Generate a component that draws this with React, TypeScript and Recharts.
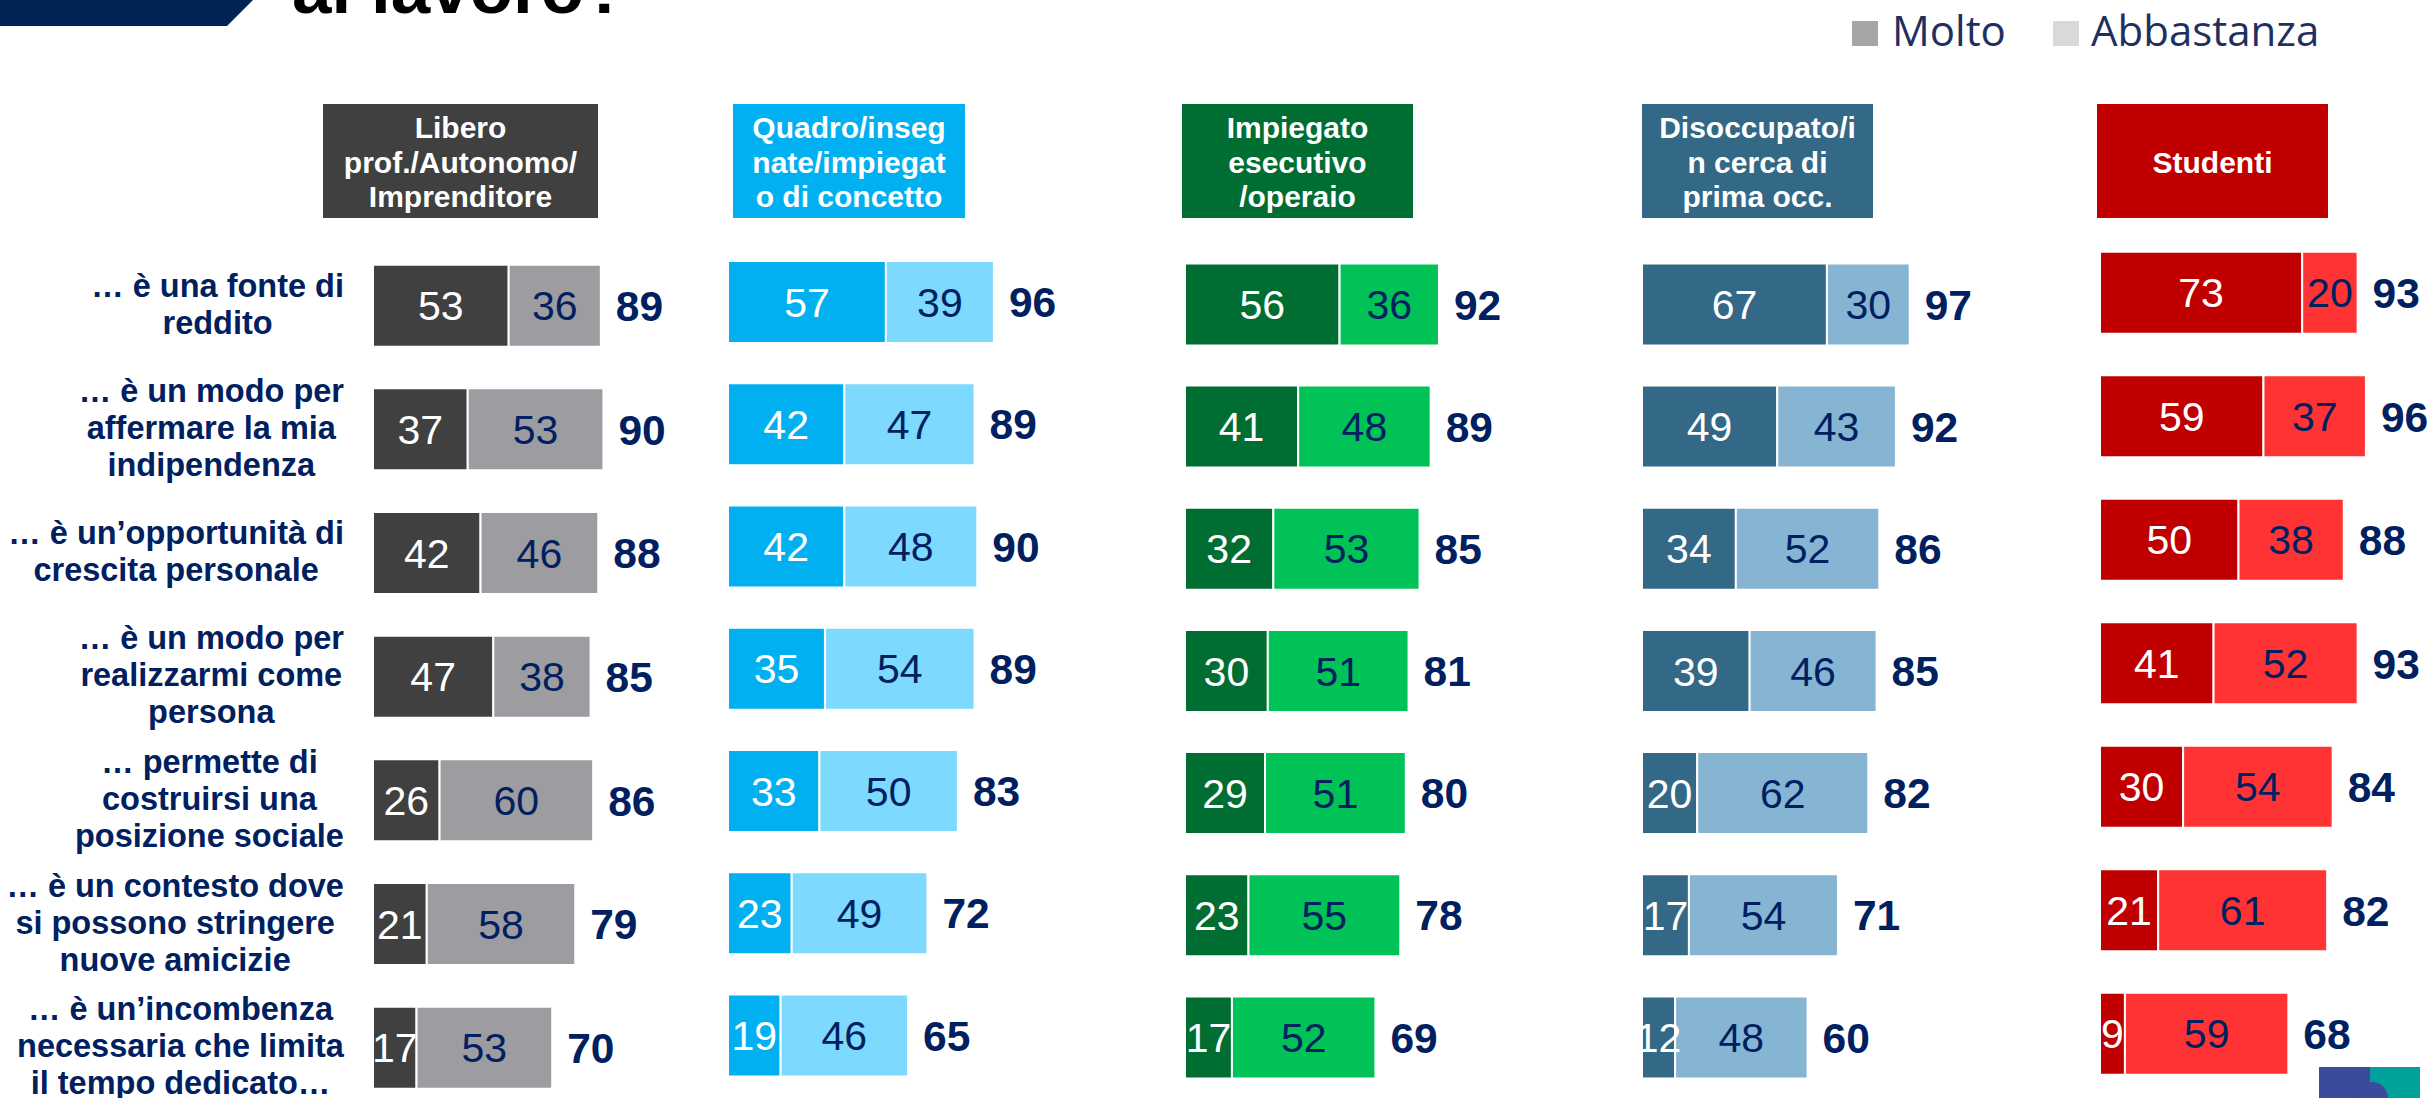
import React from 'react';
import { BarChart, Bar, XAxis, YAxis, LabelList } from 'recharts';

// ---------- DATA ----------
const categories = [
  '… è una fonte di\nreddito',
  '… è un modo per\naffermare la mia\nindipendenza',
  '… è un’opportunità di\ncrescita personale',
  '… è un modo per\nrealizzarmi come\npersona',
  '… permette di\ncostruirsi una\nposizione sociale',
  '… è un contesto dove\nsi possono stringere\nnuove amicizie',
  '… è un’incombenza\nnecessaria che limita\nil tempo dedicato…',
];

const seriesNames = ['Molto', 'Abbastanza'];

const groupTitles = [
  'Libero\nprof./Autonomo/\nImprenditore',
  'Quadro/inseg\nnate/impiegat\no di concetto',
  'Impiegato\nesecutivo\n/operaio',
  'Disoccupato/i\nn cerca di\nprima occ.',
  'Studenti',
];

const liberoMolto = [53, 37, 42, 47, 26, 21, 17];
const liberoAbbastanza = [36, 53, 46, 38, 60, 58, 53];
const liberoTotale = [89, 90, 88, 85, 86, 79, 70];

const quadroMolto = [57, 42, 42, 35, 33, 23, 19];
const quadroAbbastanza = [39, 47, 48, 54, 50, 49, 46];
const quadroTotale = [96, 89, 90, 89, 83, 72, 65];

const impiegatoMolto = [56, 41, 32, 30, 29, 23, 17];
const impiegatoAbbastanza = [36, 48, 53, 51, 51, 55, 52];
const impiegatoTotale = [92, 89, 85, 81, 80, 78, 69];

const disoccupatoMolto = [67, 49, 34, 39, 20, 17, 12];
const disoccupatoAbbastanza = [30, 43, 52, 46, 62, 54, 48];
const disoccupatoTotale = [97, 92, 86, 85, 82, 71, 60];

const studentiMolto = [73, 59, 50, 41, 30, 21, 9];
const studentiAbbastanza = [20, 37, 38, 52, 54, 61, 59];
const studentiTotale = [93, 96, 88, 93, 84, 82, 68];

// ---------- STYLE ----------
const FONT = '"Liberation Sans", Arial, Helvetica, sans-serif';
const NAVY = '#002060';

type Panel = {
  title: string;
  molto: number[];
  abb: number[];
  tot: number[];
  dark: string;
  light: string;
  header: string;
  x0: number;
  ppu: number;
  top: number;
  band: number;
  hx: number;
  hw: number;
};

const panels: Panel[] = [
  { title: groupTitles[0], molto: liberoMolto, abb: liberoAbbastanza, tot: liberoTotale, dark: '#404040', light: '#9d9ca1', header: '#404040', x0: 373, ppu: 2.56, top: 243.7, band: 123.67, hx: 323, hw: 275 },
  { title: groupTitles[1], molto: quadroMolto, abb: quadroAbbastanza, tot: quadroTotale, dark: '#00b0f0', light: '#7dd9fd', header: '#00b0f0', x0: 727.5, ppu: 2.77, top: 240.9, band: 122.25, hx: 733, hw: 232 },
  { title: groupTitles[2], molto: impiegatoMolto, abb: impiegatoAbbastanza, tot: impiegatoTotale, dark: '#006e33', light: '#00c257', header: '#006e33', x0: 1185, ppu: 2.76, top: 243.4, band: 122.17, hx: 1182, hw: 231 },
  { title: groupTitles[3], molto: disoccupatoMolto, abb: disoccupatoAbbastanza, tot: disoccupatoTotale, dark: '#336886', light: '#86b5d3', header: '#336886', x0: 1642, ppu: 2.76, top: 243.4, band: 122.17, hx: 1642, hw: 231 },
  { title: groupTitles[4], molto: studentiMolto, abb: studentiAbbastanza, tot: studentiTotale, dark: '#c00000', light: '#ff3333', header: '#c00000', x0: 2099.5, ppu: 2.77, top: 230.8, band: 123.5, hx: 2097, hw: 231 },
];

let ctx: CanvasRenderingContext2D | null = null;
function measure(t: string, font: string): number {
  if (!ctx) ctx = document.createElement('canvas').getContext('2d');
  if (!ctx) return t.length * 16;
  ctx.font = font;
  return ctx.measureText(t).width;
}

const LABEL_FS = 32.5;
const LABEL_LH = 37;
const LABEL_RIGHT = 344;

const RowLabel = (props: any) => {
  const { y, payload } = props;
  const lines = String(payload.value).split('\n');
  const maxW = Math.max(...lines.map((l) => measure(l, `bold ${LABEL_FS}px ${FONT}`)));
  const cx = LABEL_RIGHT - maxW / 2;
  const y0 = Number(y) - ((lines.length - 1) * LABEL_LH) / 2 + 0.3 * LABEL_FS;
  return (
    <text textAnchor="middle" fill={NAVY} fontWeight="bold" fontSize={LABEL_FS} fontFamily={FONT}>
      {lines.map((l, i) => (
        <tspan key={i} x={cx} y={y0 + i * LABEL_LH}>
          {l}
        </tspan>
      ))}
    </text>
  );
};

function box(p: any) {
  const vb = p.viewBox && typeof p.viewBox.width === 'number' ? p.viewBox : p;
  return { x: Number(vb.x), y: Number(vb.y), w: Number(vb.width), h: Number(vb.height) };
}

const VAL_FS = 41;
const TOT_FS = 42.5;
const inside = (color: string) => (p: any) => {
  const b = box(p);
  return (
    <text x={b.x + b.w / 2} y={b.y + b.h / 2 + 0.358 * VAL_FS} textAnchor="middle" fill={color} fontSize={VAL_FS} fontFamily={FONT}>
      {p.value}
    </text>
  );
};

const totalLabel = (p: any) => {
  const b = box(p);
  return (
    <text x={b.x + b.w + 15} y={b.y + b.h / 2 + 0.358 * TOT_FS} textAnchor="start" fill={NAVY} fontSize={TOT_FS} fontWeight="bold" fontFamily={FONT}>
      {p.value}
    </text>
  );
};

function PanelChart({ cfg, withLabels }: { cfg: Panel; withLabels: boolean }) {
  const data = categories.map((c, i) => ({ cat: c, molto: cfg.molto[i], abb: cfg.abb[i], tot: cfg.tot[i] }));
  const yW = withLabels ? cfg.x0 : 0;
  const left = withLabels ? 0 : cfg.x0;
  const plotW = 100 * cfg.ppu;
  const rightM = 100;
  const width = yW + plotW + rightM;
  const height = cfg.top + 7 * cfg.band;
  return (
    <div style={{ position: 'absolute', left, top: 0 }}>
      <BarChart
        layout="vertical"
        width={width}
        height={height}
        data={data}
        margin={{ top: cfg.top, right: rightM, bottom: 0, left: 0 }}
        barSize={82}
      >
        <XAxis type="number" domain={[0, 100]} hide />
        <YAxis
          type="category"
          dataKey="cat"
          hide={!withLabels}
          width={yW}
          axisLine={false}
          tickLine={false}
          interval={0}
          tick={RowLabel}
        />
        <Bar dataKey="molto" name={seriesNames[0]} stackId="s" fill={cfg.dark} stroke="#ffffff" strokeWidth={2} isAnimationActive={false}>
          <LabelList dataKey="molto" content={inside('#ffffff')} />
        </Bar>
        <Bar dataKey="abb" name={seriesNames[1]} stackId="s" fill={cfg.light} stroke="#ffffff" strokeWidth={2} isAnimationActive={false}>
          <LabelList dataKey="abb" content={inside(NAVY)} />
          <LabelList dataKey="tot" content={totalLabel} />
        </Bar>
      </BarChart>
    </div>
  );
}

function Decorations() {
  return (
    <svg width={2435} height={1098} style={{ position: 'absolute', left: 0, top: 0, pointerEvents: 'none' }}>
      <polygon points="0,0 253,0 227,26 0,26" fill="#002454" />
      <text x={292} y={13} fontSize={71} fontWeight="bold" fontFamily={FONT} fill="#000">
        al lavoro?
      </text>
      <rect x={1852} y={21} width={26} height={25} fill="#a6a6a6" />
      <text x={1892} y={46} fontSize={42} fontFamily={'"Open Sans", "Liberation Sans", sans-serif'} fill="#1f2f60">
        {seriesNames[0]}
      </text>
      <rect x={2053} y={21} width={26} height={25} fill="#d9d9d9" />
      <text x={2091} y={46} fontSize={42} fontFamily={'"Open Sans", "Liberation Sans", sans-serif'} fill="#1f2f60">
        {seriesNames[1]}
      </text>
      {panels.map((p, i) => {
        const lines = p.title.split('\n');
        const cx = p.hx + p.hw / 2;
        const cy = 162;
        const lh = 34.5;
        const y0 = cy - ((lines.length - 1) * lh) / 2 + 10.5;
        return (
          <g key={i}>
            <rect x={p.hx} y={104} width={p.hw} height={114} fill={p.header} />
            <text textAnchor="middle" fill="#fff" fontWeight="bold" fontSize={30} fontFamily={FONT}>
              {lines.map((l, j) => (
                <tspan key={j} x={cx} y={y0 + j * lh}>
                  {l}
                </tspan>
              ))}
            </text>
          </g>
        );
      })}
      <rect x={2319} y={1067} width={51} height={31} fill="#3c4a9c" />
      <rect x={2370} y={1067} width={50} height={31} fill="#00a19b" />
      <circle cx={2372} cy={1098} r={16} fill="#3c4a9c" />
    </svg>
  );
}

export default function App() {
  return (
    <div
      style={{
        position: 'absolute',
        left: 0,
        top: 0,
        width: 2435,
        height: 1098,
        overflow: 'hidden',
        background: '#ffffff',
        fontFamily: FONT,
      }}
    >
      {panels.map((p, i) => (
        <PanelChart key={i} cfg={p} withLabels={i === 0} />
      ))}
      <Decorations />
    </div>
  );
}
